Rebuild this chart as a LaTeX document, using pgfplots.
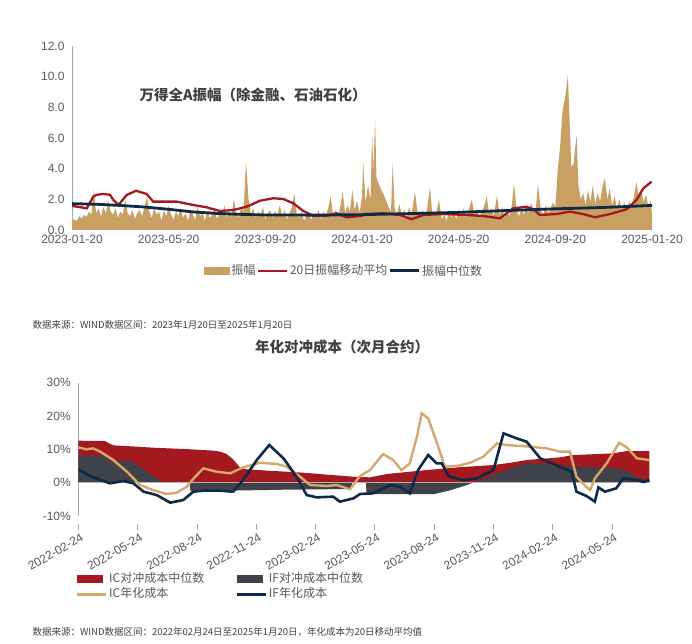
\documentclass[border=0pt]{standalone}
\usepackage{pgfplots}
\pgfplotsset{compat=1.18}
\usepackage{fontspec}
\setmainfont{Liberation Sans}
\newfontfamily\cjk{Noto Sans CJK SC}
\definecolor{tanA}{HTML}{C9A063}
\definecolor{tanL}{HTML}{D4A86C}
\definecolor{redA}{HTML}{A3191F}
\definecolor{navyA}{HTML}{0E2A47}
\definecolor{grayA}{HTML}{404249}
\definecolor{txt}{HTML}{595959}
\definecolor{ttl}{HTML}{404040}
\pgfplotsset{
  linelegend/.style={legend image code/.code={\draw[##1] (0pt,0pt) -- (29pt,0pt);}},
  arealegend/.style={legend image code/.code={\fill[##1] (0pt,-4pt) rectangle (26pt,4pt);}},
}
\begin{document}
\begin{tikzpicture}[x=1pt,y=1pt]
\path (0,0) rectangle (692,643);

% ---------- top: amplitude ----------
\begin{axis}[at={(72pt,413pt)}, anchor=south west, scale only axis,
  width=580pt, height=184pt, xmin=0, xmax=24, ymin=0, ymax=12,
  axis x line*=bottom, axis y line*=left, axis line style={-},
  x axis line style={draw=none}, y axis line style={draw=gray!70, line width=0.8pt},
  major tick length=0pt,
  xtick={0,4,8,12,16,20,24},
  xticklabels={2023-01-20,2023-05-20,2023-09-20,2024-01-20,2024-05-20,2024-09-20,2025-01-20},
  ytick={0,2,4,6,8,10,12},
  yticklabels={0.0,2.0,4.0,6.0,8.0,10.0,12.0},
  tick label style={font=\fontsize{12}{14}\selectfont, text=txt},
  yticklabel style={xshift=-4pt},
  xticklabel style={yshift=-2pt},
  legend columns=3, legend cell align=left,
  legend style={at={(axis description cs:0.2276,-0.2212)}, anchor=west, draw=none,
    fill=none, inner sep=0pt, font=\cjk\fontsize{12}{14}\selectfont, text=txt,
    nodes={inner sep=1.5pt}, /tikz/every even column/.append style={column sep=0pt}},
]
\addplot[fill=tanA, draw=none, arealegend] coordinates {
(0.0,0.55)(0.1,0.7)(0.2,0.6)(0.3,0.9)(0.4,0.75)(0.5,1.0)(0.6,0.85)(0.7,1.2)(0.8,1.0)(0.9,2.6)
(1.0,1.1)(1.1,1.4)(1.2,0.9)(1.3,1.5)(1.4,1.1)(1.5,1.9)(1.6,1.2)(1.7,1.0)(1.8,1.4)(1.9,0.8)
(2.0,1.2)(2.1,1.0)(2.2,2.0)(2.3,1.1)(2.4,0.9)(2.5,1.3)(2.6,0.7)(2.7,1.1)(2.8,1.3)(2.9,0.9)
(3.0,1.5)(3.1,2.2)(3.2,1.2)(3.3,0.8)(3.4,1.4)(3.5,1.0)(3.6,1.2)(3.7,0.6)(3.8,1.3)(3.9,0.9)
(4.0,1.6)(4.1,1.0)(4.2,0.7)(4.3,1.2)(4.4,0.9)(4.5,1.4)(4.6,0.8)(4.7,1.1)(4.8,0.6)(4.9,1.3)
(5.0,1.0)(5.1,0.7)(5.2,1.5)(5.3,0.9)(5.4,1.1)(5.5,0.6)(5.6,1.2)(5.7,0.8)(5.8,1.0)(5.9,1.4)
(6.0,0.7)(6.1,1.1)(6.2,0.9)(6.3,1.6)(6.4,0.8)(6.5,1.2)(6.6,1.0)(6.7,2.0)(6.8,1.1)(6.9,0.8)
(7.0,1.5)(7.1,1.2)(7.2,4.5)(7.3,2.1)(7.4,1.0)(7.5,1.4)(7.6,0.8)(7.7,1.2)(7.8,0.9)(7.9,1.5)
(8.0,0.7)(8.1,1.1)(8.2,1.3)(8.3,0.8)(8.4,1.2)(8.5,1.0)(8.6,1.6)(8.7,0.9)(8.8,1.3)(8.9,0.7)
(9.0,1.1)(9.1,1.5)(9.2,2.4)(9.3,1.0)(9.4,0.8)(9.5,1.2)(9.6,0.6)(9.7,0.9)(9.8,1.1)(9.9,0.7)
(10.0,1.0)(10.1,0.8)(10.2,1.3)(10.3,0.7)(10.4,1.2)(10.5,0.9)(10.6,1.4)(10.7,2.2)(10.8,1.0)(10.9,1.3)
(11.0,0.8)(11.1,1.5)(11.2,2.5)(11.3,1.1)(11.4,1.6)(11.5,1.2)(11.6,2.6)(11.7,1.3)(11.8,1.9)(11.9,1.1)
(12.0,2.2)(12.05,4.4)(12.15,1.8)(12.25,2.9)(12.35,2.0)(12.42,6.2)(12.47,3.8)(12.54,7.2)(12.6,3.4)(12.7,3.0)
(12.8,2.6)(12.9,2.3)(13.0,1.9)(13.1,1.5)(13.2,1.2)(13.27,4.4)(13.35,1.4)(13.45,1.0)(13.55,1.7)(13.65,0.9)
(13.75,1.3)(13.85,0.8)(13.95,1.5)(14.05,1.0)(14.19,2.5)(14.3,1.1)(14.4,0.8)(14.5,1.3)(14.6,0.9)(14.7,1.4)
(14.81,2.8)(14.9,1.2)(15.0,0.9)(15.1,1.3)(15.18,2.0)(15.3,0.7)(15.4,1.0)(15.5,0.6)(15.6,1.2)(15.7,0.8)
(15.8,1.1)(15.9,0.7)(16.0,1.3)(16.1,0.9)(16.2,1.4)(16.3,0.8)(16.4,1.2)(16.54,2.0)(16.65,1.0)(16.75,1.4)
(16.85,0.8)(16.95,1.2)(17.05,1.5)(17.16,2.2)(17.25,1.1)(17.35,1.4)(17.45,0.9)(17.58,2.2)(17.7,1.0)(17.8,1.5)
(17.9,0.8)(18.0,1.2)(18.1,0.9)(18.2,1.6)(18.29,3.1)(18.4,1.2)(18.5,0.9)(18.6,1.4)(18.7,1.0)(18.8,1.6)
(18.9,1.1)(19.0,1.8)(19.1,1.2)(19.2,1.5)(19.28,3.0)(19.4,1.3)(19.5,1.0)(19.6,1.6)(19.7,1.1)(19.8,1.4)
(19.9,1.8)(20.0,1.5)(20.1,3.9)(20.2,5.5)(20.3,7.8)(20.4,8.6)(20.52,10.1)(20.6,6.7)(20.66,4.1)(20.75,4.3)
(20.88,6.2)(20.95,3.0)(21.05,2.0)(21.15,2.4)(21.25,1.6)(21.35,2.6)(21.45,1.8)(21.55,2.9)(21.65,1.7)(21.75,2.4)
(21.85,1.9)(21.95,2.8)(22.05,3.4)(22.15,2.0)(22.25,2.7)(22.35,1.6)(22.45,2.2)(22.55,1.4)(22.65,2.0)(22.75,1.3)
(22.85,1.8)(22.95,1.2)(23.05,1.9)(23.15,1.5)(23.25,2.2)(23.36,3.15)(23.45,2.0)(23.55,2.7)(23.65,1.8)(23.75,2.3)
(23.85,1.5)(23.95,1.9)(24.0,1.0)
} \closedcycle;
\addlegendentry{振幅}
\addplot[redA, line width=2.3pt, linelegend] coordinates {
(0,1.57)(0.3,1.5)(0.61,1.41)(0.88,2.17)(1.02,2.3)(1.28,2.35)(1.57,2.3)(1.71,1.96)(1.92,1.63)
(2.26,2.28)(2.65,2.56)(3.09,2.35)(3.36,1.85)(3.78,1.85)(4.33,1.85)(5.02,1.63)(5.57,1.48)
(6.12,1.24)(6.66,1.3)(7.23,1.52)(7.78,1.91)(8.33,2.07)(8.74,2.02)(9.16,1.74)(9.57,1.24)
(9.98,0.93)(10.54,0.93)(10.95,1.09)(11.37,0.83)(11.92,0.91)(12.19,1.04)(12.88,1.09)
(13.57,0.98)(14.05,0.70)(14.53,0.98)(15.36,1.04)(16.33,0.98)(17.02,0.91)(17.71,0.76)
(18.26,1.41)(18.81,1.52)(19.09,1.35)(19.36,0.98)(20.05,1.04)(20.6,1.2)(21.15,1.04)
(21.64,0.83)(22.26,1.04)(22.95,1.35)(23.36,1.96)(23.64,2.72)(23.98,3.15)
};
\addlegendentry{20日振幅移动平均}
\addplot[navyA, line width=2.8pt, linelegend] coordinates {
(0,1.72)(1,1.68)(2,1.60)(3,1.50)(4,1.35)(5,1.18)(6,1.08)(7,1.02)(8,0.98)(10,0.97)
(12,1.0)(14,1.07)(16,1.15)(18,1.27)(20,1.38)(22,1.47)(24,1.6)
};
\addlegendentry{振幅中位数}
\end{axis}
\node[anchor=west, font=\cjk\bfseries\fontsize{14.5}{16}\selectfont, text=ttl] at (136,548) {万得全A振幅（除金融、石油石化）};
\node[anchor=west, font=\cjk\fontsize{9.5}{11}\selectfont, text=ttl] at (29,318) {数据来源：WIND数据区间：2023年1月20日至2025年1月20日};

% ---------- bottom: hedging cost ----------
\node[font=\cjk\bfseries\fontsize{14.5}{16}\selectfont, text=ttl] at (342,296) {年化对冲成本（次月合约）};
\begin{axis}[at={(78.3pt,127pt)}, anchor=south west, scale only axis,
  width=571.1pt, height=133.3pt, xmin=0, xmax=9.63, ymin=-10, ymax=30,
  axis x line*=bottom, axis y line*=left, axis line style={-},
  x axis line style={draw=none}, y axis line style={draw=gray!70, line width=0.8pt},
  ytick={-10,0,10,20,30}, yticklabels={-10\%,0\%,10\%,20\%,30\%},
  ytick style={draw=none},
  xtick={0,1,...,9},
  xticklabels={2022-02-24,2022-05-24,2022-08-24,2022-11-24,2023-02-24,2023-05-24,2023-08-24,2023-11-24,2024-02-24,2024-05-24},
  xtick align=outside, major tick length=6pt,
  xtick style={draw=gray!70, line width=0.8pt, yshift=-8pt},
  tick label style={font=\fontsize{12}{14}\selectfont, text=txt},
  yticklabel style={xshift=-4pt},
  xticklabel style={xshift=3pt, yshift=-6pt, rotate=30, anchor=north east},
  legend columns=2, legend cell align=left,
  legend style={at={(axis description cs:-0.004,-0.529)}, anchor=west, draw=none,
    fill=none, inner sep=0pt, font=\cjk\fontsize{12}{14}\selectfont, text=txt,
    nodes={inner xsep=1.5pt, inner ysep=1.3pt, text height=10pt, text depth=3pt},
    /tikz/every even column/.append style={column sep=30pt}},
]
\addplot[fill=redA, draw=none, arealegend] coordinates {
(0,12.6)(0.45,12.5)(0.52,11.8)(0.59,11.2)(0.8,11.0)(1.26,10.5)(1.8,10.1)(2.28,9.6)(2.4,9.3)
(2.5,8.6)(2.61,7.0)(2.73,4.5)(2.84,4.0)(3.3,3.5)(3.79,3.0)(4.2,2.4)(4.64,1.8)(4.92,1.6)
(5.2,2.6)(5.88,3.8)(6.4,4.6)(7.0,5.3)(7.3,6.0)(7.56,6.8)(8.12,7.6)(8.35,8.3)(9.02,8.8)
(9.25,9.5)(9.63,9.5)
} \closedcycle;
\addlegendentry{IC对冲成本中位数}
\addplot[fill=grayA, draw=none, arealegend] coordinates {
(0,8.3)(0.5,8.0)(0.52,6.5)(0.9,6.5)(1.43,0)(1.88,0)(1.89,-2.5)(2.5,-2.4)(3.5,-2.1)
(4.6,-1.9)(4.62,0)(4.85,0)(4.86,-3.4)(6.0,-3.4)(6.27,-2.3)(6.5,-1.0)(6.66,0)(6.94,2.0)
(7.17,3.5)(7.56,5.8)(7.9,5.6)(8.24,5.0)(8.68,4.6)(9.02,4.5)(9.25,3.5)(9.42,1.5)(9.63,0.8)
} \closedcycle;
\addlegendentry{IF对冲成本中位数}
\addplot[gray!60, line width=1.3pt, forget plot] coordinates {(0,0)(9.63,0)};
\addplot[tanL, line width=2.4pt, linelegend] coordinates {
(0,10.6)(0.14,10.0)(0.25,10.3)(0.37,9.3)(0.59,6.8)(0.82,3.3)(1.04,-0.7)(1.26,-2.2)
(1.49,-3.4)(1.66,-3.0)(1.83,-1.2)(1.97,1.8)(2.11,4.3)(2.33,3.3)(2.56,2.8)(2.78,4.6)
(3.06,6.0)(3.35,5.6)(3.51,4.8)(3.74,1.8)(3.91,-0.7)(4.19,-1.0)(4.36,-0.7)(4.58,-2.0)
(4.75,2.0)(4.92,3.8)(5.14,8.6)(5.31,6.8)(5.45,3.8)(5.59,5.8)(5.71,13.8)(5.79,20.8)
(5.90,19.3)(6.04,12.3)(6.18,4.8)(6.38,5.0)(6.61,6.0)(6.83,7.8)(7.06,11.8)(7.22,11.3)
(7.56,10.9)(7.90,10.3)(8.12,9.3)(8.29,9.3)(8.40,1.8)(8.55,-1.0)(8.63,-2.2)(8.71,1.3)
(8.91,5.8)(9.12,12.0)(9.25,10.6)(9.42,7.3)(9.63,6.8)
};
\addlegendentry{IC年化成本}
\addplot[navyA, line width=2.6pt, linelegend] coordinates {
(0,4.0)(0.20,2.0)(0.53,-0.2)(0.76,0.5)(0.93,-0.2)(1.10,-2.7)(1.32,-3.7)(1.55,-6.0)
(1.77,-5.2)(1.94,-2.7)(2.11,-2.4)(2.39,-2.4)(2.61,-2.7)(2.78,0.8)(3.01,6.8)(3.22,11.3)
(3.46,7.3)(3.68,1.8)(3.85,-3.7)(4.02,-4.4)(4.30,-4.2)(4.41,-5.7)(4.64,-4.7)(4.75,-3.4)
(4.97,-3.2)(5.26,-0.7)(5.42,-1.2)(5.59,-3.2)(5.73,3.8)(5.90,8.3)(6.04,5.8)(6.13,5.8)
(6.24,2.0)(6.49,0.8)(6.72,1.3)(7.00,3.8)(7.17,14.8)(7.39,13.3)(7.56,12.3)(7.79,7.3)
(8.12,4.8)(8.32,3.3)(8.40,-2.7)(8.57,-4.0)(8.71,-5.7)(8.77,-1.4)(8.88,-2.7)(9.07,-1.7)
(9.19,1.3)(9.42,0.8)(9.53,0.2)(9.63,0.8)
};
\addlegendentry{IF年化成本}
\end{axis}
\node[anchor=west, font=\cjk\fontsize{9.5}{11}\selectfont, text=ttl] at (29,11) {数据来源：WIND数据区间：2022年02月24日至2025年1月20日，年化成本为20日移动平均值};
\end{tikzpicture}
\end{document}
